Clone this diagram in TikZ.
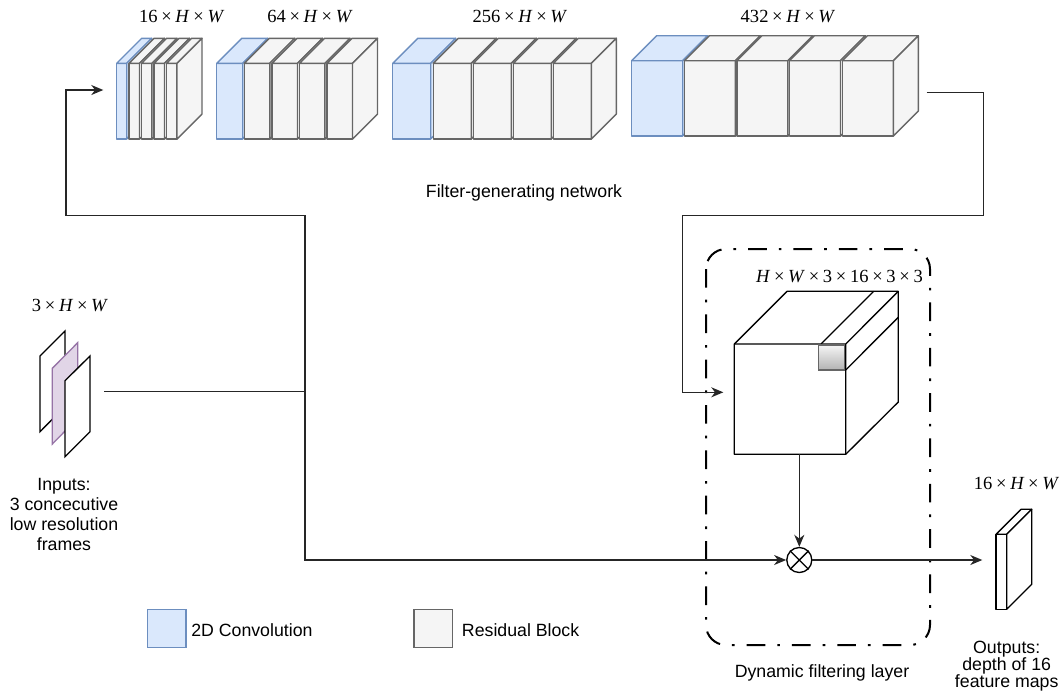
\documentclass[tikz,border=0pt]{standalone}
\usepackage{fontspec}
\setmainfont{Liberation Sans}
\newfontfamily\tms{Liberation Serif}
\usetikzlibrary{arrows.meta}

\definecolor{convfill}{HTML}{DAE8FC}
\definecolor{convline}{HTML}{6C8EBF}
\definecolor{resfill}{HTML}{F5F5F5}
\definecolor{resline}{HTML}{666666}
\definecolor{framefill}{HTML}{E1D5E7}
\definecolor{frameline}{HTML}{9673A6}

% dimension label in a Times-like face
\newcommand{\tx}{\hspace{0.2em}×\hspace{0.2em}}
\newcommand{\dimlab}[1]{{\tms #1}}

% cuboid: x, y of front top-left, width, height, fill, stroke, depth
\newcommand{\cuboid}[7]{%
  \filldraw[fill=#5,draw=#6,blockline] (#1,#2) rectangle ++(#3,#4);
  \filldraw[fill=#5,draw=#6,blockline] (#1,#2) -- ++(#7,-#7) -- ++(#3,0) -- ++(-#7,#7) -- cycle;
  \filldraw[fill=#5,draw=#6,blockline] (#1+#3,#2) -- ++(#7,-#7) -- ++(0,#4) -- ++(-#7,#7) -- cycle;
}
\newcommand{\convbox}[4]{\cuboid{#1}{#2}{#3}{#4}{convfill}{convline}{25}}
\newcommand{\resbox}[4]{\cuboid{#1}{#2}{#3}{#4}{resfill}{resline}{25}}

\begin{document}
\begin{tikzpicture}[x=0.75pt,y=-0.75pt,
  blockline/.style={line width=1.05pt,line join=round},
  conn/.style={line width=1.1pt,draw=black!85},
  arr/.style={conn,-{Stealth[length=9pt,width=7.5pt,inset=2.8pt]}},
  sanslab/.style={font=\fontsize{13.3}{15}\selectfont,inner sep=0pt},
  serlab/.style={font=\fontsize{13.9}{16}\selectfont,inner sep=0pt},
  dashdot box/.style={line width=1.5pt,rounded corners=15pt,
    dash pattern=on 14pt off 9pt on 2pt off 9pt}]
\useasboundingbox (0,0) rectangle (1063,694);

% ---------- filter-generating network ----------
% stage 1
\convbox{116.7}{63.3}{10}{75.7}
\resbox{129}{63.3}{10.5}{75.7}
\resbox{141.5}{63.3}{10.5}{75.7}
\resbox{154}{63.3}{10.5}{75.7}
\resbox{166.5}{63.3}{10.5}{75.7}
% stage 2
\convbox{216.7}{63.3}{26}{75.7}
\resbox{244.3}{63.3}{25.5}{75.7}
\resbox{272}{63.3}{25.5}{75.7}
\resbox{299.5}{63.3}{25.5}{75.7}
\resbox{327}{63.3}{25.5}{75.7}
% stage 3
\convbox{392.7}{63.3}{38}{75.7}
\resbox{433.3}{63.3}{38}{75.7}
\resbox{473.3}{63.3}{38}{75.7}
\resbox{513.3}{63.3}{38}{75.7}
\resbox{553.3}{63.3}{38}{75.7}
% stage 4
\convbox{631.7}{60.7}{51}{75.3}
\resbox{684.3}{60.7}{51}{75.3}
\resbox{737}{60.7}{51}{75.3}
\resbox{789.5}{60.7}{51}{75.3}
\resbox{842.3}{60.7}{51}{75.3}

\node[serlab] (d16) at (181.7,16.7) {\dimlab{16\tx\textit{H}\tx\textit{W}}};
\node[serlab] (d64) at (310,16.7) {\dimlab{64\tx\textit{H}\tx\textit{W}}};
\node[serlab] (d256) at (520,16.7) {\dimlab{256\tx\textit{H}\tx\textit{W}}};
\node[serlab] (d432) at (788,16) {\dimlab{432\tx\textit{H}\tx\textit{W}}};
\node[sanslab] (fgn) at (524,193.3) {Filter-generating network};

% ---------- input frames ----------
\draw[line width=1pt,fill=white] (40,356) -- (65,331) -- (65,406.5) -- (40,431.7) -- cycle;
\draw[line width=1pt,fill=framefill,draw=frameline] (52.3,368.3) -- (77.7,342.7) -- (77.7,418.3) -- (52.3,444) -- cycle;
\draw[line width=1pt,fill=white] (65,380.7) -- (90,356) -- (90,431.7) -- (65,456.7) -- cycle;
\node[serlab] (d3) at (70,305) {\dimlab{3\tx\textit{H}\tx\textit{W}}};
\node[sanslab,align=center,font=\fontsize{13.3}{15}\selectfont] (inlab) at (64,514)
  {Inputs:\\3 concecutive\\low resolution\\frames};

% ---------- dynamic filtering layer ----------
\draw[dashdot box] (706,249) rectangle (930,645);
\node[sanslab] (dfl) at (822,672.7) {Dynamic filtering layer};

% filter tensor
\filldraw[fill=white,draw=black,line width=1pt,line join=round]
  (734.3,344) -- (787,291.3) -- (898.3,291.3) -- (898.3,402) -- (845.7,454.3) -- (734.3,454.3) -- cycle;
\draw[line width=1pt,line join=round] (734.3,344) -- (845.7,344) -- (898.3,291.3)
  (845.7,344) -- (845.7,454.3);
\draw[line width=1pt] (821,344) -- (873.7,291.3);
\draw[line width=1pt] (845.7,370) -- (898.3,317.3);
\shade[top color=gray!8,bottom color=gray!60] (818.3,345) rectangle (844.3,370);
\draw[line width=1pt,draw=resline] (818.3,345) rectangle (844.3,370);
\node[serlab] (dfilt) at (839.5,276.7) {\dimlab{\textit{H}\tx\textit{W}\tx3\tx16\tx3\tx3}};

% multiplication
\node[circle,draw,line width=1pt,minimum size=18.75pt,inner sep=0pt] (mul) at (799.3,560) {};
\draw[line width=1pt] (mul.north west) -- (mul.south east) (mul.north east) -- (mul.south west);

% output maps
\filldraw[fill=white,draw=black,line width=1pt,line join=round] (996,534.3) rectangle (1006.7,609.3);
\filldraw[fill=white,draw=black,line width=1pt,line join=round] (996,534.3) -- (1021,509.3) -- (1031.7,509.3) -- (1006.7,534.3) -- cycle;
\filldraw[fill=white,draw=black,line width=1pt,line join=round] (1006.7,534.3) -- (1031.7,509.3) -- (1031.7,584.3) -- (1006.7,609.3) -- cycle;
\node[serlab] (d16o) at (1016.5,483.3) {\dimlab{16\tx\textit{H}\tx\textit{W}}};
\node[align=center,inner sep=0pt,font=\fontsize{13.3}{12.8}\selectfont] (outlab) at (1006.7,666.5)
  {Outputs:\\depth of 16\\feature maps};

% ---------- legend ----------
\filldraw[fill=convfill,draw=convline,line width=1pt] (147.7,609.3) rectangle (186,647.7);
\node[sanslab,anchor=west] (lconv) at (191,630) {2D Convolution};
\filldraw[fill=resfill,draw=resline,line width=1pt] (414,609.3) rectangle (452.3,647.7);
\node[sanslab,anchor=west] (lres) at (461.7,630) {Residual Block};

% ---------- connectors ----------
\coordinate (inR) at (104,391.7);
\coordinate (split) at (305,391.7);
\coordinate (topL) at (66,215.7);
\coordinate (fgIn) at (103.3,90);
\coordinate (fgOut) at (926.7,92.7);
\coordinate (r1) at (983.3,215.7);
\coordinate (r2) at (682.3,215.7);
\coordinate (cubeIn) at (723.3,392.3);
\coordinate (cubeBot) at (799.3,454.3);
\coordinate (outIn) at (982.3,560);

\draw[conn] (inR) -- (split);
\draw[arr] (split) |- (topL) |- (fgIn);
\draw[arr] (split) |- (mul);
\draw[arr] (fgOut) -| (r1) -- (r2) |- (cubeIn);
\draw[arr] (cubeBot) -- (mul);
\draw[arr] (mul) -- (outIn);
\end{tikzpicture}
\end{document}
